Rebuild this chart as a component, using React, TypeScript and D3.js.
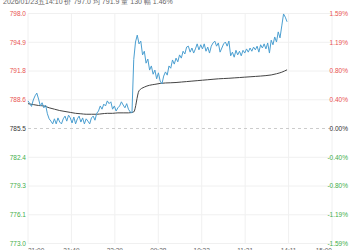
import React from "react";
import * as d3 from "d3";

const HEADER = "2026/01/23五14:10  价 797.0  均 791.9  量 130  幅 1.46%";
const priceLabels = ["798.0", "794.9", "791.8", "788.6", "785.5", "782.4", "779.3", "776.1", "773.0"];
const priceTicks = [798.0, 794.875, 791.75, 788.625, 785.5, 782.375, 779.25, 776.125, 773.0];
const pctLabels = ["1.59%", "1.19%", "0.80%", "0.40%", "0.00%", "-0.40%", "-0.80%", "-1.19%", "-1.59%"];
const timeLabels = ["21:00", "21:49", "22:39", "09:28", "10:32", "11:21", "14:11", "15:00"];
const totalMinutes = 345;
const prevClose = 785.5;

// price, one value every 2 trading minutes
const priceStep = 2;
const prices = [
  788.5, 788.2, 787.9, 788.6, 789.05, 789.35, 788.7, 787.95, 788.3, 787.75,
  788.05, 787.1, 786.55, 786.3, 786.0, 786.55, 786.0, 786.65, 786.2, 786.0,
  786.55, 786.85, 786.3, 786.95, 786.65, 786.1, 786.75, 786.0, 786.55, 786.85,
  786.2, 786.65, 786.0, 786.55, 786.3, 786.0, 786.65, 786.85, 786.4, 787.15,
  787.4, 787.95, 787.6, 788.15, 787.95, 788.5, 788.2, 788.4, 787.6, 787.95,
  787.4, 787.75, 787.95, 788.4, 788.05, 787.75, 788.2, 787.6, 787.3, 787.2,
  793.0, 794.9, 795.65, 794.7, 795.0, 793.5, 793.9, 792.6, 793.05, 791.85,
  792.3, 791.4, 791.85, 790.9, 791.55, 790.65, 790.35, 791.2, 791.65, 791.3,
  792.3, 792.05, 792.95, 792.5, 793.15, 792.75, 793.5, 793.15, 793.9, 793.6,
  794.35, 794.45, 793.8, 794.25, 793.7, 794.15, 794.7, 794.05, 794.6, 794.15,
  794.7, 793.9, 794.35, 793.7, 794.45, 794.8, 795.0, 794.45, 794.8, 793.8,
  794.25, 794.7, 794.9, 794.45, 795.0, 793.4, 793.8, 793.25, 794.0, 793.5,
  793.9, 793.4, 794.0, 793.7, 794.15, 793.8, 794.25, 793.9, 794.35, 794.05,
  794.45, 793.8, 794.6, 794.25, 794.7, 794.15, 794.8, 793.7, 795.1, 794.6,
  795.45, 794.9, 796.0, 795.35, 796.65, 797.95, 797.6, 797.1,
];

// average price, one value every 6 trading minutes
const avgStep = 6;
const averages = [
  788.2, 788.1, 788.0, 787.95, 787.75, 787.6, 787.45, 787.35, 787.25, 787.15,
  787.1, 787.05, 787.05, 787.05, 787.1, 787.15, 787.15, 787.2, 787.2, 787.2,
  787.3, 789.6, 790.0, 790.2, 790.3, 790.4, 790.45, 790.47, 790.5, 790.55,
  790.6, 790.65, 790.7, 790.75, 790.8, 790.85, 790.9, 790.93, 790.96, 791.0,
  791.04, 791.08, 791.12, 791.16, 791.2, 791.25, 791.32, 791.45, 791.62, 791.88,
];

const W = 350;
const H = 250;
const left = 28;
const right = 332;
const top = 13.5;
const bottom = 243.5;
const FONT = "'Liberation Sans', Arial, sans-serif";

export default function App() {
  const x = d3.scaleLinear().domain([0, totalMinutes]).range([left, right]);
  const y = d3.scaleLinear().domain([773.0, 798.0]).range([bottom, top]);

  const priceLine = d3
    .line<number>()
    .x((_, i) => x(i * priceStep))
    .y((d) => y(d));
  const avgLine = d3
    .line<number>()
    .x((_, i) => x(i * avgStep))
    .y((d) => y(d))
    .curve(d3.curveMonotoneX);

  const colorFor = (v: number) =>
    v > prevClose + 1e-6 ? "#e8524f" : v < prevClose - 1e-6 ? "#3fae4a" : "#333";

  const vTicks = d3.range(timeLabels.length).map((i) => (i * totalMinutes) / (timeLabels.length - 1));

  return (
    <svg
      width={W}
      height={H}
      style={{ position: "fixed", left: 0, top: 0, background: "#fff" }}
      fontFamily={FONT}
    >
      <text x={3} y={3.5} fontSize={7} fill="#666">
        {HEADER}
      </text>
      {vTicks.map((t, i) => (
        <line key={"v" + i} x1={x(t)} x2={x(t)} y1={top} y2={bottom} stroke="#f0f0f0" strokeWidth={1} />
      ))}
      {priceTicks.map((v, i) =>
        v === prevClose ? (
          <line key={"h" + i} x1={left} x2={right} y1={y(v)} y2={y(v)} stroke="#ccc" strokeDasharray="3,3" strokeWidth={1} />
        ) : (
          <line key={"h" + i} x1={left} x2={right} y1={y(v)} y2={y(v)} stroke="#f0f0f0" strokeWidth={1} />
        )
      )}
      <path d={avgLine(averages) || ""} fill="none" stroke="#444" strokeWidth={1} />
      <path d={priceLine(prices) || ""} fill="none" stroke="#4b9fd1" strokeWidth={1} />
      {priceTicks.map((v, i) => (
        <text key={"l" + i} x={26} y={y(v)} dy="0.35em" textAnchor="end" fontSize={6.5} fill={colorFor(v)}>
          {priceLabels[i]}
        </text>
      ))}
      {priceTicks.map((v, i) => (
        <text key={"r" + i} x={348} y={y(v)} dy="0.35em" textAnchor="end" fontSize={6.5} fill={colorFor(v)}>
          {pctLabels[i]}
        </text>
      ))}
      {vTicks.map((t, i) => (
        <text
          key={"t" + i}
          x={x(t)}
          y={252.5}
          textAnchor={i === 0 ? "start" : i === vTicks.length - 1 ? "end" : "middle"}
          fontSize={6.5}
          fill="#666"
        >
          {timeLabels[i]}
        </text>
      ))}
    </svg>
  );
}
